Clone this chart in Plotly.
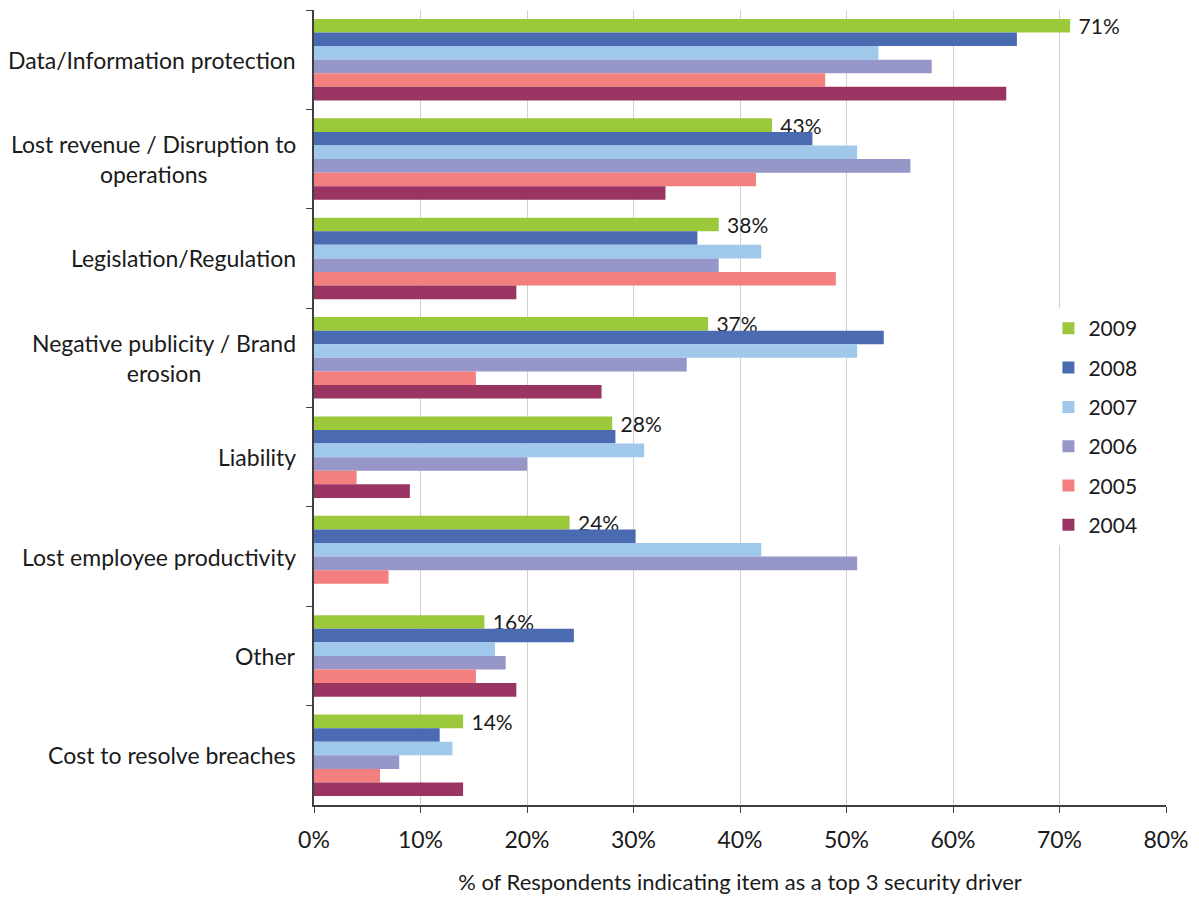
import plotly.graph_objects as go

categories = [
    "Data/Information protection",
    "Lost revenue / Disruption to<br>operations",
    "Legislation/Regulation",
    "Negative publicity / Brand<br>erosion",
    "Liability",
    "Lost employee productivity",
    "Other",
    "Cost to resolve breaches",
]

years = ["2009", "2008", "2007", "2006", "2005", "2004"]

values_2009 = [71, 43, 38, 37, 28, 24, 16, 14]
values_2008 = [66, 46.8, 36, 53.5, 28.3, 30.2, 24.4, 11.8]
values_2007 = [53, 51, 42, 51, 31, 42, 17, 13]
values_2006 = [58, 56, 38, 35, 20, 51, 18, 8]
values_2005 = [48, 41.5, 49, 15.2, 4, 7, 15.2, 6.2]
values_2004 = [65, 33, 19, 27, 9, 0, 19, 14]

series = [values_2009, values_2008, values_2007, values_2006, values_2005, values_2004]
colors = ["#9BC93B", "#4A6AB1", "#9FC8EA", "#9696C9", "#F37F7F", "#9A3462"]

FONT = "Lato"
TEXT_COLOR = "#1a1a1a"

fig = go.Figure()
for year, vals, col in zip(years, series, colors):
    labelled = year == "2009"
    fig.add_trace(go.Bar(
        y=categories,
        x=vals,
        name=year,
        orientation="h",
        marker=dict(color=col, line=dict(width=0)),
        legendgroup=year,
        text=[f"\u00a0{v:g}%" for v in vals] if labelled else None,
        textposition="outside" if labelled else "none",
        constraintext="none",
        cliponaxis=False,
        textfont=dict(family=FONT, size=21, color=TEXT_COLOR),
    ))

# Category labels drawn as centered multi-line annotations
for cat in categories:
    fig.add_annotation(
        x=0, xref="paper", y=cat, yref="y",
        text=cat, showarrow=False,
        xanchor="right", yanchor="middle", align="center",
        xshift=-16,
        font=dict(family=FONT, size=23, color=TEXT_COLOR),
    )

fig.update_layout(
    width=1199, height=901,
    margin=dict(l=314, r=29, t=10, b=94),
    paper_bgcolor="white", plot_bgcolor="white",
    barmode="group", bargap=0.18, bargroupgap=0,
    showlegend=True,
    legend=dict(
        x=0.862, xanchor="left", y=0.625, yanchor="top",
        bgcolor="white", traceorder="grouped", tracegroupgap=9,
        font=dict(family=FONT, size=21, color=TEXT_COLOR),
        itemwidth=30,
    ),
    font=dict(family=FONT, color=TEXT_COLOR),
)

fig.update_xaxes(
    range=[0, 80], dtick=10, ticksuffix="%",
    showgrid=True, gridcolor="#d0d0d0", gridwidth=1,
    showline=True, linecolor="#404040", linewidth=1.5,
    ticks="outside", ticklen=6, tickcolor="#404040",
    ticklabelstandoff=8,
    tickfont=dict(family=FONT, size=23, color=TEXT_COLOR),
    zeroline=False,
    title=dict(text="% of Respondents indicating item as a top 3 security driver",
               font=dict(family=FONT, size=22, color=TEXT_COLOR), standoff=22),
)

fig.update_yaxes(
    autorange="reversed",
    showticklabels=False,
    showline=True, linecolor="#404040", linewidth=1.5,
    ticks="outside", ticklen=6, tickcolor="#404040", tickson="boundaries",
    showgrid=False,
)

fig.write_html("out.html")
